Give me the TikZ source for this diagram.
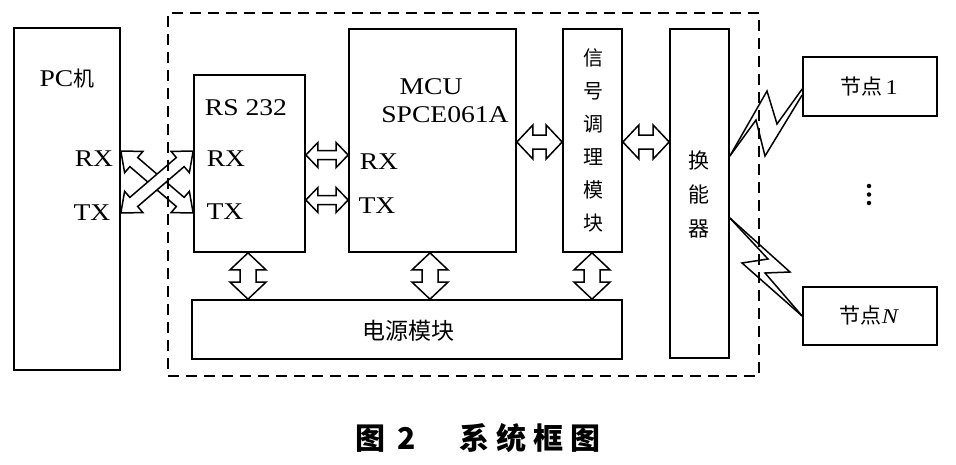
\documentclass[tikz,border=0pt]{standalone}
\usepackage{fontspec}
\setmainfont{Liberation Serif}[FakeStretch=1.15]
\newfontfamily\cjk{Noto Sans CJK SC}
\usetikzlibrary{calc}
% hollow double arrow: #1 start, #2 end, #3 head length, #4 head half width, #5 shaft half width
\newcommand\hollowdbl[5]{%
  \path ($(#1)!#3!(#2)$) coordinate (ha) ($(#2)!#3!(#1)$) coordinate (hb);
  \draw[arrowshape] (#1) -- ($(ha)!#4!90:(#2)$) -- ($(ha)!#5!90:(#2)$)
     -- ($(hb)!#5!-90:(#1)$) -- ($(hb)!#4!-90:(#1)$) -- (#2)
     -- ($(hb)!#4!90:(#1)$) -- ($(hb)!#5!90:(#1)$)
     -- ($(ha)!#5!-90:(#2)$) -- ($(ha)!#4!-90:(#2)$) -- cycle;}
\begin{document}
\begin{tikzpicture}[x=1pt,y=-1pt,
  box/.style={draw, line width=1.7pt, rectangle, inner sep=0pt},
  lbl/.style={inner sep=0pt, font=\fontsize{24}{27}\selectfont},
  cjklbl/.style={inner sep=0pt, font=\cjk\fontsize{20}{33}\selectfont, align=center},
  dotmark/.style={circle, fill, inner sep=0pt, minimum size=4.5pt},
  arrowshape/.style={draw, line width=1.5pt, fill=white, line join=miter},
  bolt/.style={draw, line width=1.5pt, line join=miter},
  dashbox/.style={draw, line width=1.8pt, dash pattern=on 11pt off 7pt}]
\useasboundingbox (0,0) rectangle (956,464);

% boxes
\node[box, minimum width=106pt, minimum height=342pt] (pc) at (67,199) {};
\node[box, minimum width=111pt, minimum height=177pt] (rs) at (249.5,163.5) {};
\node[box, minimum width=167pt, minimum height=223pt] (mcu) at (432.5,140.5) {};
\node[box, minimum width=59pt, minimum height=223pt] (sig) at (592.5,140.5) {};
\node[box, minimum width=59pt, minimum height=329pt] (conv) at (699.5,193.5) {};
\node[box, minimum width=430pt, minimum height=59pt] (pwr) at (407,329.5) {};
\node[box, minimum width=134pt, minimum height=59pt] (n1) at (870,86.5) {};
\node[box, minimum width=134pt, minimum height=58pt] (nN) at (870,316) {};

% labels
\node[lbl] (pcl) at (67,79) {PC{\cjk\fontsize{21}{24}\selectfont 机}};
\node[lbl] (pcrx) at (94,159) {RX};
\node[lbl] (pctx) at (92,213) {TX};
\node[lbl] (rsl) at (246,108) {RS 232};
\node[lbl] (rsrxl) at (226,159) {RX};
\node[lbl] (rstxl) at (225,212) {TX};
\node[lbl] (mcul) at (431,87) {MCU};
\node[lbl] (mcul2) at (445,115) {SPCE061A};
\node[lbl] (mcurxl) at (379,162) {RX};
\node[lbl] (mcutxl) at (377,206) {TX};
\node[cjklbl] (sigl) at (593,140) {信\\号\\调\\理\\模\\块};
\node[cjklbl, font=\cjk\fontsize{21}{34}\selectfont] (convl) at (699,194) {换\\能\\器};
\node[cjklbl, font=\cjk\fontsize{23}{26}\selectfont] (pwrl) at (408,331) {电源模块};
\node[cjklbl, font=\cjk\fontsize{21}{24}\selectfont] (n1l) at (869,87) {节点\,{\rmfamily 1}};
\node[cjklbl, font=\cjk\fontsize{21}{24}\selectfont] (nNl) at (869,316) {节点{\rmfamily\itshape N}};
\node[dotmark] (d1) at (869,186) {};
\node[dotmark] (d2) at (869,194.5) {};
\node[dotmark] (d3) at (869,203) {};
\node[inner sep=0pt, font=\cjk\bfseries\fontsize{30}{34}\selectfont] (cap) at (478,438)
  {图\hspace{12pt}2\hspace{44pt}系\hspace{7pt}统\hspace{7pt}框\hspace{7pt}图};

% connector end points
\coordinate (pcA) at (pc.east |- 0,151);
\coordinate (pcB) at (pc.east |- 0,213);
\coordinate (rsA) at (rs.west |- 0,151);
\coordinate (rsB) at (rs.west |- 0,213);
\coordinate (rsR) at (rs.east |- 0,155);
\coordinate (rsT) at (rs.east |- 0,200);
\coordinate (mcuR) at (mcu.west |- 0,155);
\coordinate (mcuT) at (mcu.west |- 0,200);
\coordinate (mcuE) at (mcu.east |- 0,142);
\coordinate (sigW) at (sig.west |- 0,142);
\coordinate (sigE) at (sig.east |- 0,142);
\coordinate (convW) at (conv.west |- 0,142);
\coordinate (rsS) at (rs.south -| 248,0);
\coordinate (pwrA) at (pwr.north -| 248,0);
\coordinate (mcuS) at (mcu.south -| 430,0);
\coordinate (pwrB) at (pwr.north -| 430,0);
\coordinate (sigS) at (sig.south -| 592,0);
\coordinate (pwrC) at (pwr.north -| 592,0);

% cross arrows PC <-> RS232
\hollowdbl{pcA}{rsB}{17pt}{14pt}{6pt}
\hollowdbl{pcB}{rsA}{17pt}{14pt}{6pt}
% RS232 <-> MCU
\hollowdbl{rsR}{mcuR}{12pt}{12.5pt}{4.5pt}
\hollowdbl{rsT}{mcuT}{12pt}{12.5pt}{4.5pt}
% MCU <-> signal <-> converter
\hollowdbl{mcuE}{sigW}{16pt}{17pt}{7pt}
\hollowdbl{sigE}{convW}{16pt}{17pt}{7pt}
% to power module
\hollowdbl{rsS}{pwrA}{17pt}{18pt}{8pt}
\hollowdbl{mcuS}{pwrB}{17pt}{18pt}{8pt}
\hollowdbl{sigS}{pwrC}{17pt}{18pt}{8pt}

% lightning bolts
\coordinate (b1s) at (conv.east |- 0,156);
\coordinate (b1a) at (n1.west |- 0,89);
\coordinate (b1b) at (n1.west |- 0,95);
\draw[bolt] (b1s) -- (767,91) -- (777,124) -- (b1a);
\draw[bolt] (b1s) -- (756,120) -- (765,156) -- (b1b);
\coordinate (b2s) at (conv.east |- 0,218);
\coordinate (b2e) at (nN.west |- 0,316);
\draw[bolt] (b2s) -- (768,259) -- (742,263) -- (b2e);
\draw[bolt] (b2s) -- (790,272) -- (765,273) -- (b2e);

% dashed system boundary
\node[dashbox, minimum width=591pt, minimum height=363pt, inner sep=0pt] (sys) at (463.5,194.5) {};
\end{tikzpicture}
\end{document}
